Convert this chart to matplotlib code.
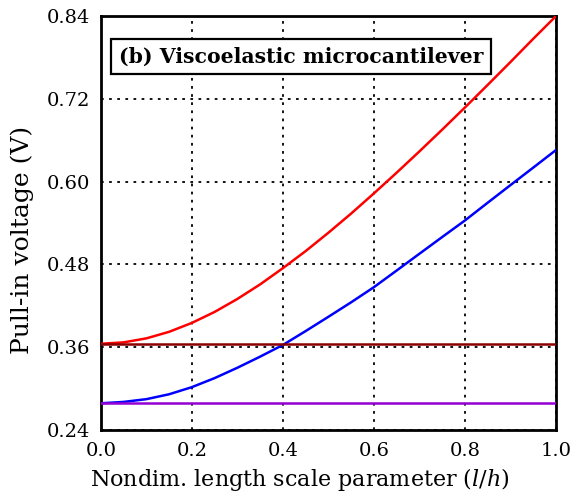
import matplotlib
matplotlib.use("Agg")
import matplotlib.pyplot as plt

# Nondimensional length scale parameter l/h
l_over_h = [0.00, 0.05, 0.10, 0.15, 0.20, 0.25, 0.30, 0.35, 0.40, 0.45, 0.50,
            0.55, 0.60, 0.65, 0.70, 0.75, 0.80, 0.85, 0.90, 0.95, 1.00]

# Pull-in voltage (V), size-dependent models
v_upper = [0.3650, 0.3670, 0.3728, 0.3823, 0.3952, 0.4111, 0.4299, 0.4510, 0.4745,
           0.4992, 0.5258, 0.5536, 0.5828, 0.6128, 0.6436, 0.6751, 0.7072, 0.7399,
           0.7730, 0.8066, 0.8395]
v_lower = [0.2787, 0.2807, 0.2847, 0.2918, 0.3021, 0.3152, 0.3302, 0.3463, 0.3632,
           0.3833, 0.4040, 0.4250, 0.4469, 0.4710, 0.4953, 0.5195, 0.5435, 0.5692,
           0.5947, 0.6200, 0.6455]

# Classical (size-independent) pull-in voltages
x_flat = [0.0, 1.0]
v_flat_upper = [0.3648, 0.3648]
v_flat_lower = [0.2787, 0.2787]

x_ticks = [0.0, 0.2, 0.4, 0.6, 0.8, 1.0]
y_ticks = [0.24, 0.36, 0.48, 0.60, 0.72, 0.84]

plt.rcParams['font.family'] = ['DejaVu Serif']
plt.rcParams['mathtext.fontset'] = 'dejavuserif'

fig = plt.figure(figsize=(5.7, 5.0), dpi=100)
ax = fig.add_axes([0.177, 0.14, 0.798, 0.828])

ax.plot(l_over_h, v_upper, color='#ff0000', lw=1.8, zorder=3)
ax.plot(l_over_h, v_lower, color='#0000ff', lw=1.8, zorder=3)
ax.plot(x_flat, v_flat_upper, color='#8b0000', lw=1.8, zorder=4)
ax.plot(x_flat, v_flat_lower, color='#9400d3', lw=1.8, zorder=4)

ax.set_xlim(0, 1)
ax.set_ylim(0.24, 0.84)
ax.set_xticks(x_ticks)
ax.set_yticks(y_ticks)
ax.set_xticklabels([f"{t:.1f}" for t in x_ticks])
ax.set_yticklabels([f"{t:.2f}" for t in y_ticks])
ax.tick_params(length=0, labelsize=14)
ax.tick_params(axis='x', pad=9)
ax.tick_params(axis='y', pad=8)

ax.grid(True, color='black', linestyle=(0, (1.5, 3)), lw=1.3)
for s in ax.spines.values():
    s.set_linewidth(2.0)

ax.set_xlabel(r"Nondim. length scale parameter $(l/h)$", fontsize=16)
ax.set_ylabel("Pull-in voltage (V)", fontsize=18)
ax.xaxis.set_label_coords(0.437, -0.088)
ax.yaxis.set_label_coords(-0.148, 0.46)

ax.text(0.04, 0.902, "(b) Viscoelastic microcantilever", transform=ax.transAxes,
        fontsize=14.7, fontweight='bold', va='center', ha='left', zorder=5,
        bbox=dict(boxstyle='square,pad=0.38', fc='white', ec='black', lw=1.6))

fig.savefig("out.png", dpi=100)
